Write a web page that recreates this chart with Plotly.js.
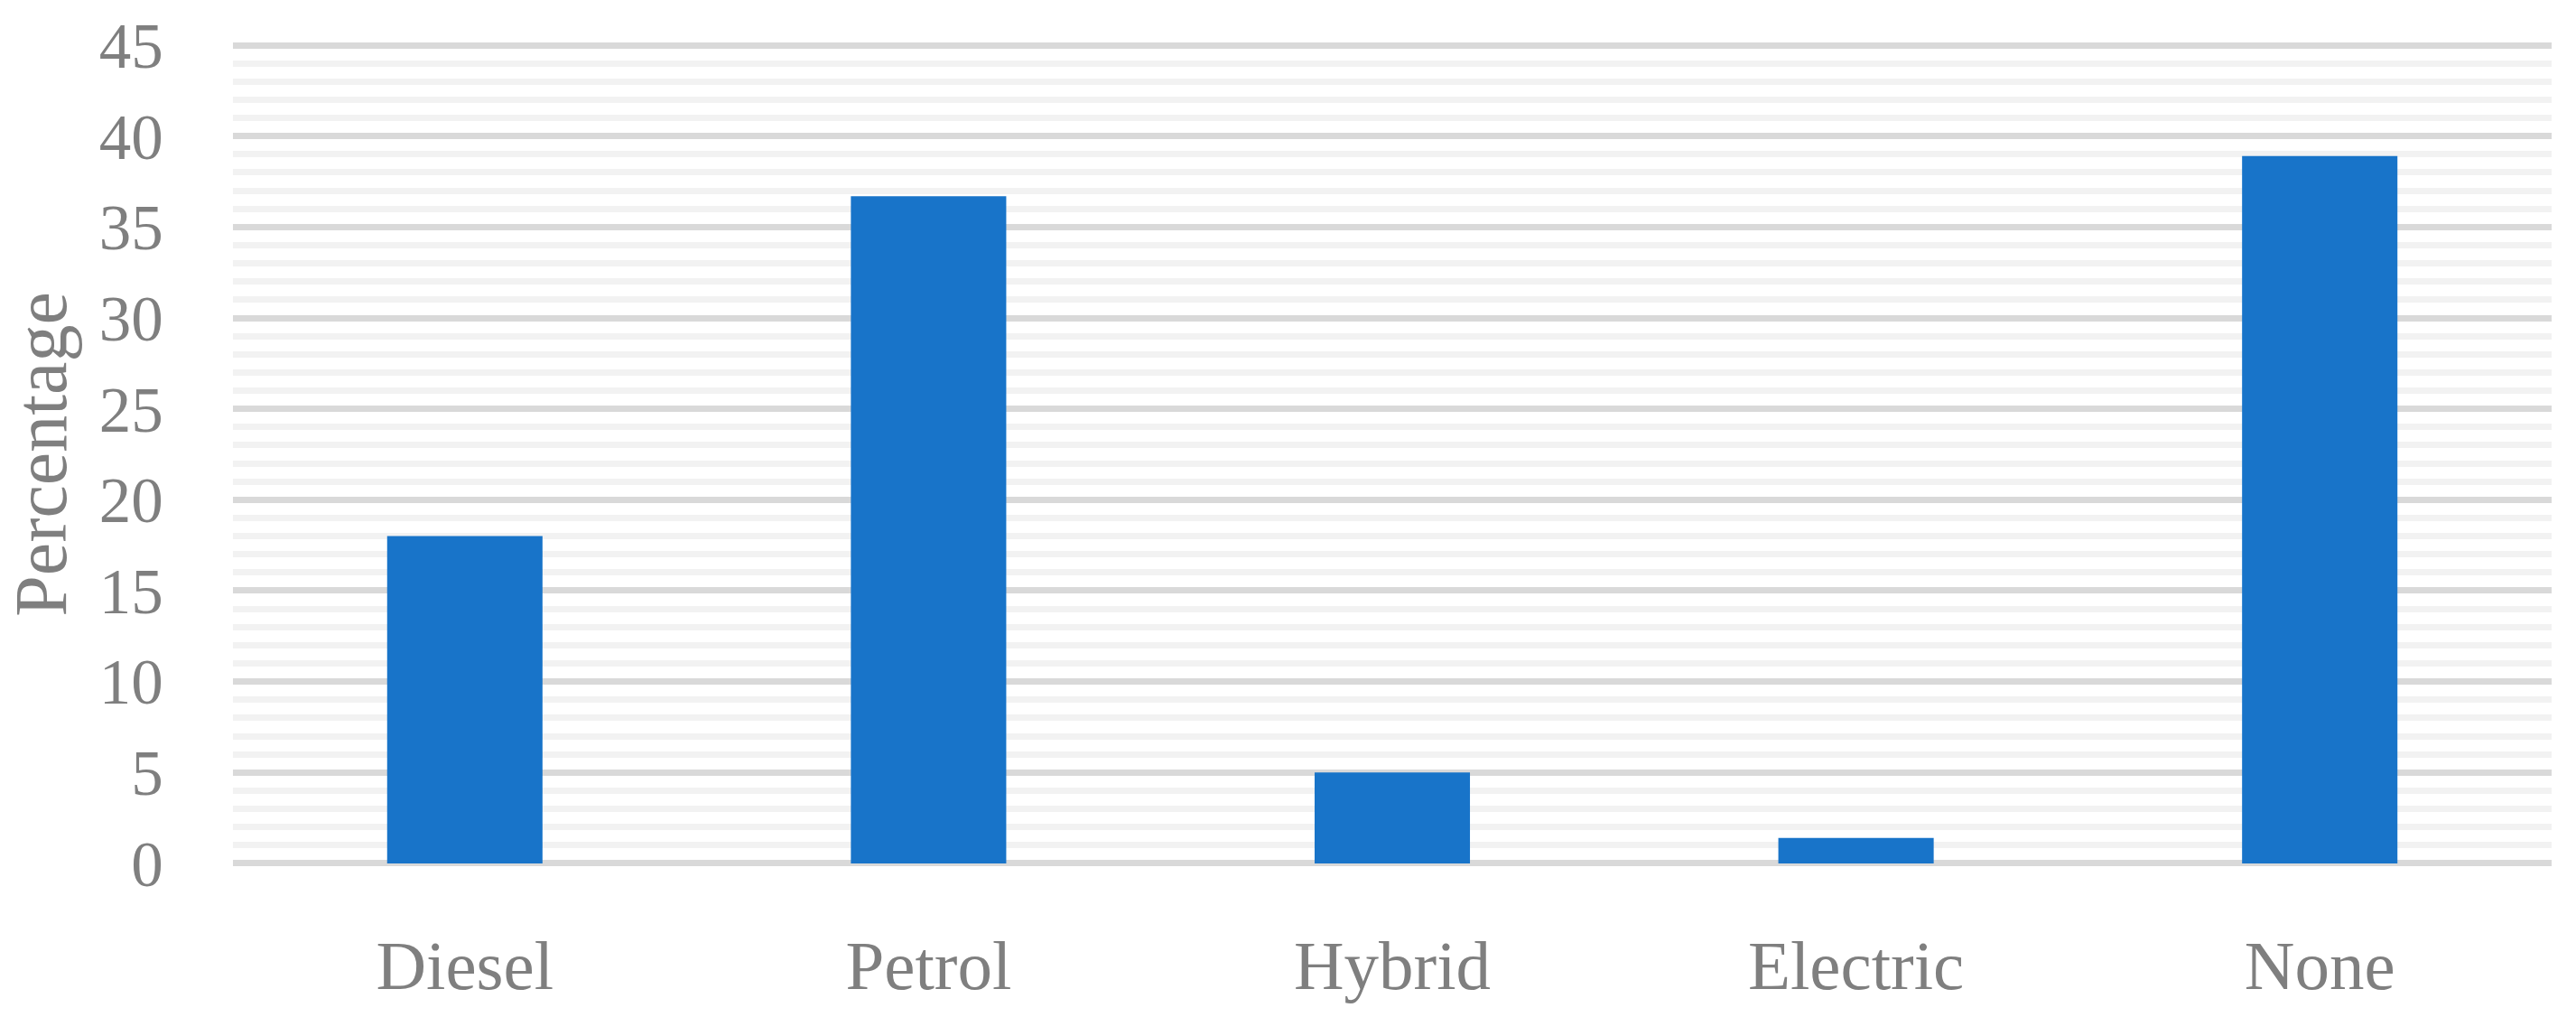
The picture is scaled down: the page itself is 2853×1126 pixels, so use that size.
<!DOCTYPE html>
<html>
<head>
<meta charset="utf-8">
<script src="https://cdn.plot.ly/plotly-3.0.1.min.js"></script>
<style>html,body{margin:0;padding:0;background:#fff;}#chart{width:2853px;height:1126px;}</style>
</head>
<body>
<div id="chart"></div>
<script>
const categories = ["Diesel", "Petrol", "Hybrid", "Electric", "None"];
const percentages = [18.0, 36.7, 5.0, 1.4, 38.9];
const yTickValues = [0, 5, 10, 15, 20, 25, 30, 35, 40, 45];
const yAxisTitle = "Percentage";

const gray = "#7f7f7f";
const serif = "Liberation Serif, Times New Roman, serif";

const data = [{
  type: "bar",
  x: categories,
  y: percentages,
  marker: {color: "#1874c9"},
  hoverinfo: "x+y"
}];

const layout = {
  width: 2853,
  height: 1126,
  margin: {l: 258, r: 27, t: 41, b: 164},
  paper_bgcolor: "#ffffff",
  plot_bgcolor: "#ffffff",
  bargap: 0.665,
  showlegend: false,
  xaxis: {
    showgrid: false,
    zeroline: false,
    showline: false,
    ticks: "outside",
    ticklen: 40,
    tickcolor: "rgba(0,0,0,0)",
    tickfont: {family: serif, size: 77, color: gray}
  },
  yaxis: {
    range: [-0.3, 45.3],
    tickvals: yTickValues,
    ticktext: yTickValues.map(String),
    showgrid: true,
    gridcolor: "#d9d9d9",
    gridwidth: 7,
    zeroline: false,
    showline: false,
    ticks: "outside",
    ticklen: 62,
    tickcolor: "rgba(0,0,0,0)",
    tickfont: {family: serif, size: 71, color: gray},
    minor: {dtick: 1, showgrid: true, gridcolor: "#f2f2f2", gridwidth: 7, ticks: ""},
    title: {text: yAxisTitle, font: {family: serif, size: 82, color: gray}, standoff: 14},
    automargin: true
  }
};

Plotly.newPlot("chart", data, layout, {displayModeBar: false, staticPlot: true});
</script>
</body>
</html>
